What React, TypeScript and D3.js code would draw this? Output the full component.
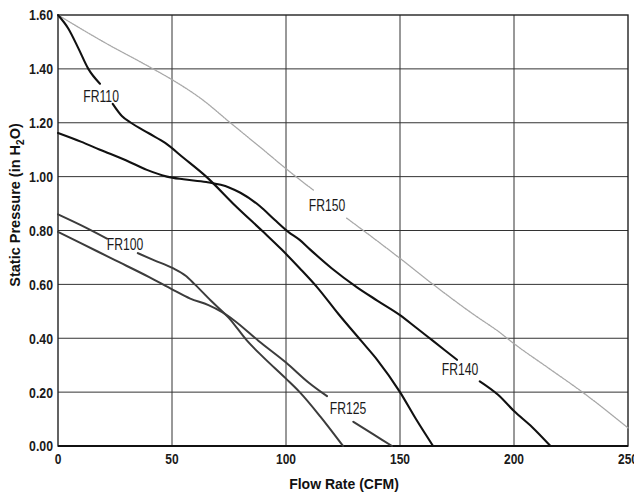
import * as d3 from "d3"

// Fan curves: static pressure (in H2O) vs flow rate (CFM). null = gap where a label sits.
const fr110Flow = [0, 4.5, 8.9, 13.3, 18.4, 21, 24, 28, 32, 40, 47, 55, 65, 78, 90, 98, 106, 113.6, 123, 133, 140, 150, 157, 164.5]
const fr110Pressure = [1.6, 1.55, 1.477, 1.4, 1.345, null, 1.27, 1.225, 1.2, 1.16, 1.125, 1.07, 1.0, 0.89, 0.795, 0.73, 0.66, 0.59, 0.49, 0.39, 0.32, 0.2, 0.1, 0.0]

const fr140Flow = [0, 10, 18.4, 30, 39, 47.8, 55, 65, 75, 80, 88.6, 95, 101, 106, 110.5, 120, 131, 140, 150, 157, 164.5, 175, 180, 185, 193, 200, 208, 216]
const fr140Pressure = [1.162, 1.13, 1.1, 1.06, 1.025, 1.0, 0.99, 0.98, 0.96, 0.94, 0.89, 0.84, 0.795, 0.765, 0.73, 0.66, 0.59, 0.54, 0.486, 0.44, 0.39, 0.32, null, 0.24, 0.19, 0.13, 0.07, 0.0]

const fr150Flow = [0, 20, 41.7, 50, 63.6, 75, 90, 101.8, 112, 120, 126.6, 137.7, 151, 164.5, 182, 194, 200, 215, 230, 250]
const fr150Pressure = [1.6, 1.5, 1.4, 1.36, 1.284, 1.204, 1.1, 1.017, 0.95, null, 0.846, 0.776, 0.69, 0.6, 0.49, 0.42, 0.38, 0.29, 0.2, 0.067]

const fr100Flow = [0, 10, 21.5, 28, 35, 42, 50.4, 56, 60, 67, 75, 83, 90, 100, 106, 115, 125]
const fr100Pressure = [0.86, 0.82, 0.77, null, 0.716, 0.69, 0.66, 0.632, 0.6, 0.54, 0.475, 0.39, 0.33, 0.25, 0.2, 0.11, 0.0]

const fr125Flow = [0, 10, 25, 40, 50.4, 58, 66, 72, 77, 88, 100, 110, 118, 124, 129.5, 138, 146.5]
const fr125Pressure = [0.795, 0.753, 0.69, 0.627, 0.58, 0.547, 0.523, 0.497, 0.468, 0.39, 0.31, 0.235, 0.185, null, 0.09, 0.045, 0.0]

const xTicks = [0, 50, 100, 150, 200, 250]
const yTicks = [0, 0.2, 0.4, 0.6, 0.8, 1.0, 1.2, 1.4, 1.6]

// label name, flow, pressure (centre of the text)
const labelNames = ["FR110", "FR150", "FR100", "FR140", "FR125"]
const labelFlow = [18.9, 118, 29.4, 176.3, 127.2]
const labelPressure = [1.3, 0.895, 0.75, 0.286, 0.141]

const W = 634
const H = 494
const sans = "'Liberation Sans', Arial, sans-serif"

type Pt = { f: number; p: number | null }
const zip = (f: number[], p: (number | null)[]): Pt[] => f.map((v, i) => ({ f: v, p: p[i] }))

// condensed text: squeeze horizontally around its anchor
function Cond(props: { x: number; y: number; sx: number; anchor: string; size: number; weight?: number; dy?: string; children: any }) {
  return (
    <text
      transform={`translate(${props.x},${props.y}) scale(${props.sx},1)`}
      dy={props.dy}
      textAnchor={props.anchor}
      fontFamily={sans}
      fontSize={props.size}
      fontWeight={props.weight ?? 400}
      fill="#1a1a1a"
    >
      {props.children}
    </text>
  )
}

export default function App() {
  const x = d3.scaleLinear().domain([0, 250]).range([58, 628])
  const y = d3.scaleLinear().domain([0, 1.6]).range([446, 15])

  const line = d3
    .line<Pt>()
    .defined((d) => d.p != null)
    .x((d) => x(d.f))
    .y((d) => y(d.p as number))
    .curve(d3.curveMonotoneX)

  const series = [
    { data: zip(fr150Flow, fr150Pressure), stroke: "#a8a8a8", width: 1.3, dash: "1.3,1.1" },
    { data: zip(fr100Flow, fr100Pressure), stroke: "#3c3c3c", width: 2, dash: undefined },
    { data: zip(fr125Flow, fr125Pressure), stroke: "#3c3c3c", width: 2, dash: undefined },
    { data: zip(fr140Flow, fr140Pressure), stroke: "#111", width: 2.1, dash: undefined },
    { data: zip(fr110Flow, fr110Pressure), stroke: "#111", width: 2.1, dash: undefined },
  ]

  const fmt = d3.format(".2f")

  return (
    <svg width={W} height={H} style={{ position: "absolute", left: 0, top: 0, background: "#fff" }}>
      {/* gridlines */}
      {yTicks.slice(1, -1).map((t) => (
        <line key={"h" + t} x1={x(0)} x2={x(250)} y1={y(t)} y2={y(t)} stroke="#333" strokeWidth={1} />
      ))}
      {xTicks.slice(1, -1).map((t) => (
        <line key={"v" + t} x1={x(t)} x2={x(t)} y1={y(0)} y2={y(1.6)} stroke="#333" strokeWidth={1} />
      ))}
      <rect x={x(0)} y={y(1.6)} width={x(250) - x(0)} height={y(0) - y(1.6)} fill="none" stroke="#222" strokeWidth={1.4} />
      <line x1={x(0)} x2={x(250)} y1={y(0)} y2={y(0)} stroke="#111" strokeWidth={2} />

      {/* curves */}
      {series.map((s, i) => (
        <path key={i} d={line(s.data) ?? ""} fill="none" stroke={s.stroke} strokeWidth={s.width} strokeDasharray={s.dash} strokeLinecap="round" />
      ))}

      {/* curve labels */}
      {labelNames.map((n, i) => (
        <Cond key={n} x={x(labelFlow[i])} y={y(labelPressure[i])} dy="0.36em" sx={0.76} anchor="middle" size={16}>
          {n}
        </Cond>
      ))}

      {/* y ticks */}
      {yTicks.map((t) => (
        <Cond key={"yt" + t} x={x(0) - 5} y={y(t)} dy="0.36em" sx={0.82} anchor="end" size={15} weight={700}>
          {fmt(t)}
        </Cond>
      ))}
      {/* x ticks */}
      {xTicks.map((t) => (
        <Cond key={"xt" + t} x={x(t)} y={y(0) + 18} sx={0.8} anchor="middle" size={15} weight={700}>
          {t}
        </Cond>
      ))}

      {/* axis titles */}
      <text x={344} y={489} textAnchor="middle" fontFamily={sans} fontWeight="bold" fontSize={14} fill="#111">
        Flow Rate (CFM)
      </text>
      <text transform={`translate(20,${205}) rotate(-90)`} textAnchor="middle" fontFamily={sans} fontWeight="bold" fontSize={14.5} fill="#111">
        Static Pressure (in H
        <tspan fontSize={10} dy={4}>2</tspan>
        <tspan dy={-4}>O)</tspan>
      </text>
    </svg>
  )
}
